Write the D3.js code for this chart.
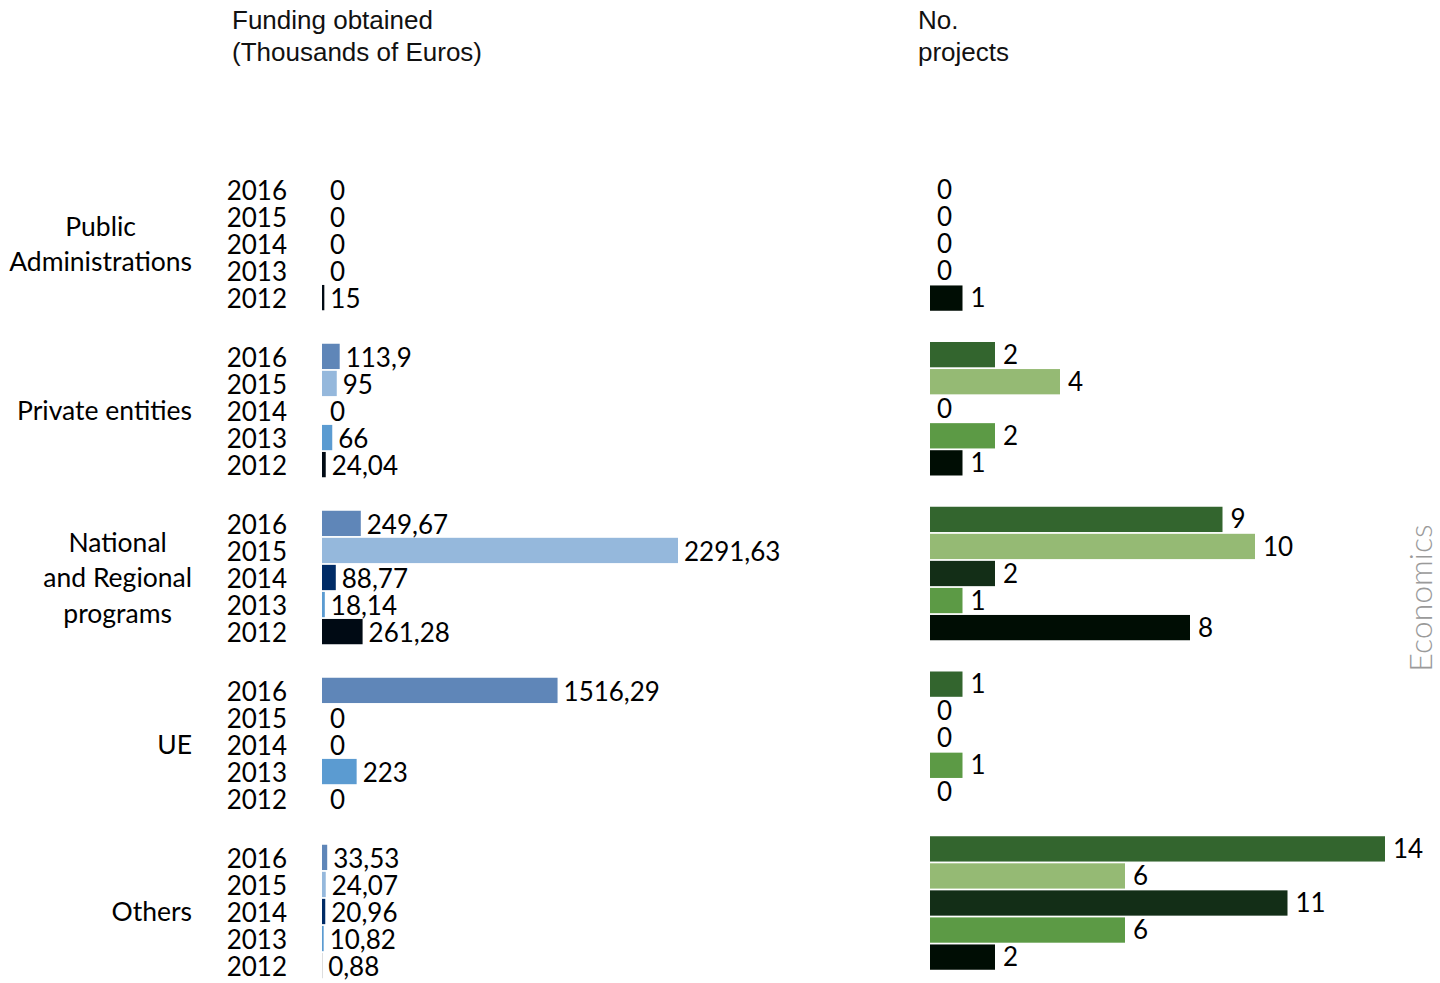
<!DOCTYPE html>
<html>
<head>
<meta charset="utf-8">
<script src="https://cdn.jsdelivr.net/npm/d3@7"></script>
<style>
  html, body { margin: 0; padding: 0; background: #fff; }
  svg { display: block; }
</style>
</head>
<body>
<script>
// ---------- DATA ----------
const years = ["2016", "2015", "2014", "2013", "2012"];
const categories = ["Public Administrations", "Private entities", "National and Regional programs", "UE", "Others"];
const categoryLines = [["Public", "Administrations"], ["Private entities"], ["National", "and Regional", "programs"], ["UE"], ["Others"]];

// Funding obtained (thousands of euros), one array per year, in category order
const funding2016 = [0, 113.9, 249.67, 1516.29, 33.53];
const funding2015 = [0, 95, 2291.63, 0, 24.07];
const funding2014 = [0, 0, 88.77, 0, 20.96];
const funding2013 = [0, 66, 18.14, 223, 10.82];
const funding2012 = [15, 24.04, 261.28, 0, 0.88];

// Number of projects, one array per year, in category order
const projects2016 = [0, 2, 9, 1, 14];
const projects2015 = [0, 4, 10, 0, 6];
const projects2014 = [0, 0, 2, 0, 11];
const projects2013 = [0, 2, 1, 1, 6];
const projects2012 = [1, 1, 8, 0, 2];

const fundingByYear = [funding2016, funding2015, funding2014, funding2013, funding2012];
const projectsByYear = [projects2016, projects2015, projects2014, projects2013, projects2012];

// ---------- STYLE ----------
const blueColors = ["#5f86b8", "#95b8dc", "#002b66", "#5b9bd1", "#000a14"];
const greenColors = ["#33652e", "#95ba74", "#132e17", "#5c9a45", "#000d04"];
const mainFont = "Lato, 'Noto Sans', sans-serif";
const headFont = "'Liberation Sans', Arial, sans-serif";

const W = 1440, H = 983;
const svg = d3.select("body").append("svg").attr("width", W).attr("height", H);

// ---------- SCALES ----------
const yGroupL = d3.scalePoint().domain(categories).range([245, 913]);
const yGroupR = d3.scalePoint().domain(categories).range([244, 903]);
const yBand = d3.scaleBand().domain(years).range([-66.75, 66.75]).paddingInner(0.065).paddingOuter(0);
const xLeft0 = 322, xRight0 = 930;
const xFund = d3.scaleLinear().domain([0, 2291.63]).range([0, 356]);
const xProj = d3.scaleLinear().domain([0, 14]).range([0, 455]);

const fmt = v => String(v).replace(".", ",");

// build rows
const rows = [];
categories.forEach((c, ci) => {
  years.forEach((yr, yi) => {
    rows.push({cat: c, ci, year: yr, yi, fund: fundingByYear[yi][ci], proj: projectsByYear[yi][ci]});
  });
});
const midL = d => yGroupL(d.cat) + yBand(d.year) + yBand.bandwidth() / 2;
const midR = d => yGroupR(d.cat) + yBand(d.year) + yBand.bandwidth() / 2;

// ---------- HEADERS ----------
const head = svg.append("g").attr("font-family", headFont).attr("font-size", 26).attr("fill", "#111");
head.append("text").attr("x", 232).attr("y", 29).text("Funding obtained");
head.append("text").attr("x", 232).attr("y", 61).text("(Thousands of Euros)");
head.append("text").attr("x", 918).attr("y", 29).text("No.");
head.append("text").attr("x", 918).attr("y", 61).text("projects");

// ---------- CATEGORY LABELS ----------
const catG = svg.append("g").attr("font-family", mainFont).attr("font-size", 26.5).attr("fill", "#000");
categories.forEach((c, ci) => {
  const lines = categoryLines[ci];
  const lh = 35.5;
  const g = catG.append("g");
  const texts = lines.map((ln, li) => g.append("text")
    .attr("y", yGroupL(c) - 1 + (li - (lines.length - 1) / 2) * lh)
    .attr("dy", "0.35em")
    .attr("text-anchor", "middle")
    .text(ln));
  const maxW = d3.max(texts, t => t.node().getComputedTextLength());
  texts.forEach(t => t.attr("x", 192 - maxW / 2));
});

// ---------- YEAR LABELS ----------
svg.append("g").attr("font-family", mainFont).attr("font-size", 26).attr("fill", "#000")
  .selectAll("text").data(rows).join("text")
  .attr("x", 287).attr("y", midL).attr("dy", "0.35em")
  .attr("text-anchor", "end")
  .text(d => d.year);

// ---------- FUNDING BARS ----------
svg.append("g").selectAll("rect").data(rows.filter(d => d.fund > 0)).join("rect")
  .attr("x", xLeft0)
  .attr("y", d => midL(d) - yBand.bandwidth() / 2 - 1.5)
  .attr("width", d => xFund(d.fund))
  .attr("height", yBand.bandwidth())
  .attr("fill", d => blueColors[d.yi]);

svg.append("g").attr("font-family", mainFont).attr("font-size", 26).attr("fill", "#000")
  .selectAll("text").data(rows).join("text")
  .attr("x", d => xLeft0 + xFund(d.fund) + (d.fund > 0 ? 6 : 8))
  .attr("y", midL).attr("dy", "0.35em")
  .text(d => fmt(d.fund));

// ---------- PROJECT BARS ----------
svg.append("g").selectAll("rect").data(rows.filter(d => d.proj > 0)).join("rect")
  .attr("x", xRight0)
  .attr("y", d => midR(d) - yBand.bandwidth() / 2)
  .attr("width", d => xProj(d.proj))
  .attr("height", yBand.bandwidth())
  .attr("fill", d => greenColors[d.yi]);

svg.append("g").attr("font-family", mainFont).attr("font-size", 26).attr("fill", "#000")
  .selectAll("text").data(rows).join("text")
  .attr("x", d => xRight0 + xProj(d.proj) + (d.proj > 0 ? 8 : 7))
  .attr("y", midR).attr("dy", "0.35em")
  .text(d => fmt(d.proj));

// ---------- SIDE LABEL ----------
svg.append("text")
  .attr("transform", "translate(1432,598) rotate(-90)")
  .attr("text-anchor", "middle")
  .attr("font-family", mainFont)
  .attr("font-weight", 300)
  .attr("font-size", 32)
  .attr("fill", "#9a9a9a")
  .text("Economics");
</script>
</body>
</html>
